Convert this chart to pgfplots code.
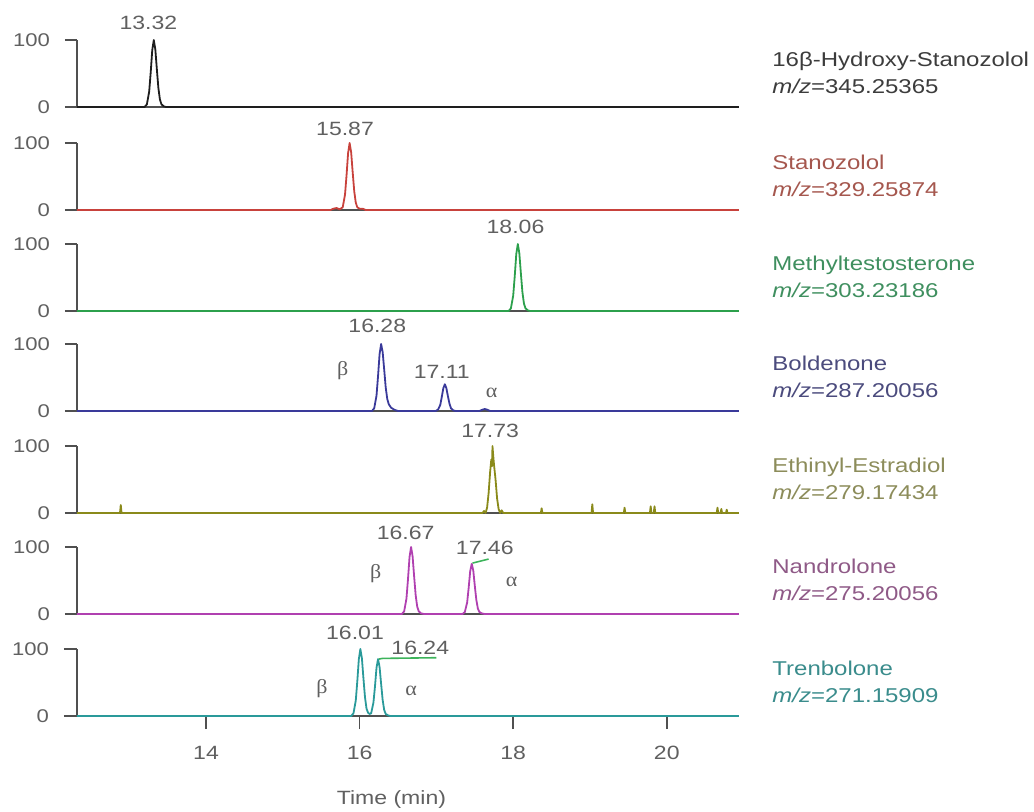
\documentclass[border=0pt]{standalone}
\usepackage{fontspec}
\setmainfont{Liberation Sans}[FakeStretch=1.2]
\newfontfamily\grk{Liberation Serif}[FakeStretch=1.1]
\usepackage{pgfplots}
\pgfplotsset{compat=1.18}
\definecolor{axgray}{HTML}{505050}
\definecolor{lblgray}{HTML}{606060}
\definecolor{cBlack}{HTML}{1E1E1E}
\definecolor{cRed}{HTML}{C8423C}
\definecolor{cGreen}{HTML}{2CA04C}
\definecolor{cNavy}{HTML}{3A3A9A}
\definecolor{cOlive}{HTML}{8A8A1A}
\definecolor{cMag}{HTML}{B040B0}
\definecolor{cTeal}{HTML}{2A9A9A}
\definecolor{cLime}{HTML}{3CB35A}
\definecolor{tBlack}{HTML}{3C3C3C}
\definecolor{tRed}{HTML}{A5574E}
\definecolor{tGreen}{HTML}{3F8F5F}
\definecolor{tNavy}{HTML}{4B4B7D}
\definecolor{tOlive}{HTML}{8C8C5A}
\definecolor{tMag}{HTML}{8F5A87}
\definecolor{tTeal}{HTML}{3A8C8C}
\pgfplotsset{
 panel/.style={
  scale only axis, width=331pt, height=33.5pt,
  xmin=12.32, xmax=20.94, ymin=0, ymax=100,
  axis x line*=bottom, axis y line*=left,
  axis line style={axgray, line width=0.9pt},
  ytick={0,100}, xtick=\empty,
  tick align=outside, major tick length=6pt,
  tick style={axgray, line width=0.8pt},
  yticklabel style={font=\fontsize{9.2}{10}\selectfont, text=lblgray, xshift=-4pt},
  xticklabel style={font=\fontsize{9.6}{11}\selectfont, text=lblgray, yshift=-5pt},
  /pgf/number format/assume math mode=true,
  clip=false,
  anchor=south west,
 },
}
\tikzset{
 trace/.style={line width=0.9pt, line join=round},
 pk/.style={font=\fontsize{9.6}{11}\selectfont, text=lblgray, inner sep=0pt},
 gk/.style={font=\grk\fontsize{10}{12}\selectfont, text=lblgray, inner sep=0pt},
 name/.style={anchor=west, align=left, inner sep=0pt, xshift=16.5pt, font=\fontsize{10}{13.5}\selectfont},
}
\begin{document}
\begin{tikzpicture}
% Panel 1: 16beta-Hydroxy-Stanozolol
\begin{axis}[panel, at={(0pt,0pt)}]
\addplot[trace, cBlack] coordinates {(12.32,0)(13.20,0)(13.23,4)(13.26,23)(13.28,52)(13.30,85)(13.32,100)(13.34,86)(13.36,56)(13.38,28)(13.40,11)(13.42,4)(13.45,1)(13.48,0)(20.94,0)};
\node[pk] at (axis cs:13.25,126) {13.32};
\node[name, text=tBlack] at (rel axis cs:1,0.51) {16β-Hydroxy-Stanozolol\\\textit{m/z}=345.25365};
\end{axis}
% Panel 2: Stanozolol
\begin{axis}[panel, at={(0pt,-51.5pt)}]
\addplot[trace, cRed] coordinates {(12.32,0)(15.62,0)(15.66,2)(15.70,3)(15.74,1)(15.78,4)(15.81,23)(15.83,52)(15.85,85)(15.87,100)(15.89,86)(15.91,56)(15.93,28)(15.95,11)(15.97,4)(16.00,2)(16.04,2)(16.08,0)(20.94,0)};
\node[pk] at (axis cs:15.81,121) {15.87};
\node[name, text=tRed] at (rel axis cs:1,0.51) {Stanozolol\\\textit{m/z}=329.25874};
\end{axis}
% Panel 3: Methyltestosterone
\begin{axis}[panel, at={(0pt,-102pt)}]
\addplot[trace, cGreen] coordinates {(12.32,0)(17.94,0)(17.97,4)(18.00,23)(18.02,52)(18.04,85)(18.06,100)(18.08,86)(18.10,56)(18.12,28)(18.14,11)(18.16,4)(18.19,1)(18.22,0)(20.94,0)};
\node[pk] at (axis cs:18.03,126) {18.06};
\node[name, text=tGreen] at (rel axis cs:1,0.51) {Methyltestosterone\\\textit{m/z}=303.23186};
\end{axis}
% Panel 4: Boldenone
\begin{axis}[panel, at={(0pt,-152pt)}]
\addplot[trace, cNavy] coordinates {(12.32,0)(16.16,0)(16.19,4)(16.22,23)(16.24,52)(16.26,85)(16.28,100)(16.30,88)(16.32,62)(16.34,35)(16.36,18)(16.38,10)(16.41,5)(16.45,2)(16.50,0)(16.99,0)(17.02,2)(17.05,9)(17.07,21)(17.09,34)(17.11,40)(17.13,34)(17.15,22)(17.17,11)(17.19,4)(17.22,1)(17.25,0)(17.56,0)(17.60,2)(17.63,3)(17.66,2)(17.70,0)(20.94,0)};
\node[pk] at (axis cs:16.23,127) {16.28};
\node[pk] at (axis cs:17.07,58) {17.11};
\node[gk] at (axis cs:15.78,61) {β};
\node[gk] at (axis cs:17.72,27) {α};
\node[name, text=tNavy] at (rel axis cs:1,0.51) {Boldenone\\\textit{m/z}=287.20056};
\end{axis}
% Panel 5: Ethinyl-Estradiol
\begin{axis}[panel, at={(0pt,-203pt)}]
\addplot[trace, cOlive] coordinates {(12.32,0)(12.88,0)(12.89,12)(12.90,0)(17.60,0)(17.62,3)(17.64,0)(17.66,8)(17.68,30)(17.70,62)(17.715,80)(17.725,70)(17.73,100)(17.74,85)(17.75,72)(17.77,50)(17.79,22)(17.81,6)(17.83,0)(17.85,4)(17.87,0)(18.36,0)(18.37,7)(18.38,0)(19.02,0)(19.03,13)(19.04,0)(19.44,0)(19.45,8)(19.46,0)(19.78,0)(19.79,10)(19.80,0)(19.83,0)(19.84,10)(19.85,0)(20.65,0)(20.66,8)(20.67,0)(20.70,0)(20.71,6)(20.72,0)(20.77,0)(20.78,5)(20.79,0)(20.94,0)};
\node[pk] at (axis cs:17.70,123) {17.73};
\node[name, text=tOlive] at (rel axis cs:1,0.51) {Ethinyl-Estradiol\\\textit{m/z}=279.17434};
\end{axis}
% Panel 6: Nandrolone
\begin{axis}[panel, at={(0pt,-253.5pt)}]
\addplot[trace, cMag] coordinates {(12.32,0)(16.55,0)(16.58,4)(16.61,23)(16.63,52)(16.65,85)(16.67,100)(16.69,86)(16.71,56)(16.73,28)(16.75,11)(16.77,4)(16.80,1)(16.84,0)(17.34,0)(17.37,3)(17.40,17)(17.42,39)(17.44,64)(17.46,75)(17.48,65)(17.50,42)(17.52,21)(17.54,8)(17.56,3)(17.59,1)(17.63,0)(20.94,0)};
\addplot[cLime, line width=0.8pt] coordinates {(17.47,76)(17.68,82)};
\node[pk] at (axis cs:16.60,121) {16.67};
\node[pk] at (axis cs:17.63,98) {17.46};
\node[gk] at (axis cs:16.21,61) {β};
\node[gk] at (axis cs:17.98,48) {α};
\node[name, text=tMag] at (rel axis cs:1,0.51) {Nandrolone\\\textit{m/z}=275.20056};
\end{axis}
% Panel 7: Trenbolone
\begin{axis}[panel, at={(0pt,-304.5pt)}, xtick={14,16,18,20}, major tick length=6.5pt]
\addplot[trace, cTeal] coordinates {(12.32,0)(15.89,0)(15.92,4)(15.95,23)(15.97,52)(15.99,85)(16.01,100)(16.03,86)(16.05,56)(16.07,28)(16.09,11)(16.11,5)(16.13,3)(16.15,4)(16.18,20)(16.20,44)(16.22,72)(16.24,85)(16.26,73)(16.28,48)(16.30,24)(16.32,9)(16.34,3)(16.37,1)(16.40,0)(20.94,0)};
\addplot[cLime, line width=0.8pt] coordinates {(16.25,85)(16.30,86)(17.00,87)};
\node[pk] at (axis cs:15.94,124) {16.01};
\node[pk] at (axis cs:16.79,102) {16.24};
\node[gk] at (axis cs:15.51,41) {β};
\node[gk] at (axis cs:16.67,38) {α};
\node[name, text=tTeal] at (rel axis cs:1,0.51) {Trenbolone\\\textit{m/z}=271.15909};
\node[font=\fontsize{9.6}{11}\selectfont, text=lblgray, inner sep=0pt] at (rel axis cs:0.475,0) [yshift=-42pt] {Time (min)};
\end{axis}
\pgfresetboundingbox
\path[use as bounding box] (-38.5pt,53.5pt) rectangle (478.5pt,-352pt);
\end{tikzpicture}
\end{document}
